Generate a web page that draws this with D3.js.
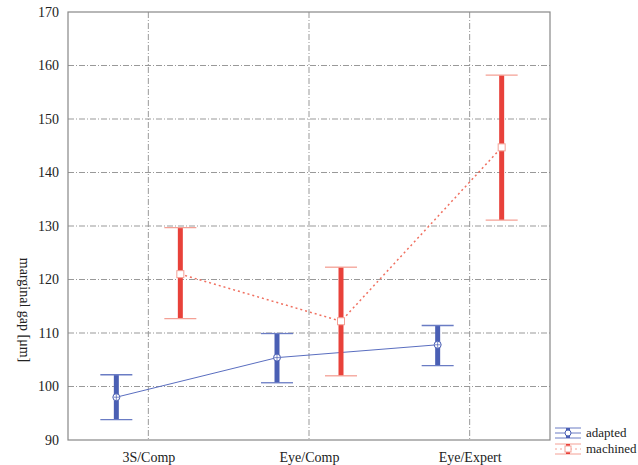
<!DOCTYPE html>
<html>
<head>
<meta charset="utf-8">
<script src="https://cdn.jsdelivr.net/npm/d3@7"></script>
<style>
  body { margin: 0; background: #fff; }
  svg text { font-family: 'Liberation Serif', 'Times New Roman', Times, 'DejaVu Serif', serif !important; }
</style>
</head>
<body>
<div id="chart"></div>
<script>
const categories = ['3S/Comp', 'Eye/Comp', 'Eye/Expert'];
const seriesNames = ['adapted', 'machined'];
const adaptedMean = [98.0, 105.4, 107.8];
const adaptedLow = [93.8, 100.7, 103.9];
const adaptedHigh = [102.2, 109.9, 111.4];
const machinedMean = [121.0, 112.2, 144.7];
const machinedLow = [112.7, 102.0, 131.1];
const machinedHigh = [129.7, 122.3, 158.2];
const yTicks = [90, 100, 110, 120, 130, 140, 150, 160, 170];

const svgWidth = 638, svgHeight = 465;
const margin = { top: 12, right: 88, bottom: 25, left: 68 };
const width = svgWidth - margin.left - margin.right;
const height = svgHeight - margin.top - margin.bottom;

const svg = d3.select('#chart').append('svg')
    .attr('width', svgWidth)
    .attr('height', svgHeight);

const g = svg.append('g')
    .attr('transform', `translate(${margin.left},${margin.top})`);

const x = d3.scalePoint().domain(categories).range([0, width]).padding(0.5);
const y = d3.scaleLinear().domain([90, 170]).range([height, 0]);

// grid
g.selectAll('.hgrid').data(yTicks.slice(1, -1)).enter().append('line')
    .attr('x1', 0).attr('x2', width)
    .attr('y1', d => y(d)).attr('y2', d => y(d))
    .attr('stroke', '#999').attr('stroke-width', 1)
    .attr('stroke-dasharray', '6,2,1,2');
g.selectAll('.vgrid').data(categories).enter().append('line')
    .attr('x1', d => x(d)).attr('x2', d => x(d))
    .attr('y1', 0).attr('y2', height)
    .attr('stroke', '#999').attr('stroke-width', 1)
    .attr('stroke-dasharray', '6,2,1,2');

// frame
g.append('rect').attr('width', width).attr('height', height)
    .attr('fill', 'none').attr('stroke', '#888').attr('stroke-width', 1.2);

// axes
const yAxis = g.append('g').call(d3.axisLeft(y).tickValues(yTicks).tickSize(0).tickPadding(9));
yAxis.select('.domain').remove();
yAxis.attr('font-size', 14);
yAxis.selectAll('text').attr('fill', '#222');

const xAxis = g.append('g').attr('transform', `translate(0,${height})`)
    .call(d3.axisBottom(x).tickSize(0).tickPadding(12));
xAxis.select('.domain').remove();
xAxis.attr('font-size', 14);
xAxis.selectAll('text').attr('fill', '#222');

svg.append('text')
    .attr('transform', 'translate(20,310) rotate(90)')
    .attr('text-anchor', 'middle')
    .attr('font-size', 14)
    .attr('fill', '#222')
    .text('marginal gap [μm]');

const series = [
  { name: 'adapted', mean: adaptedMean, low: adaptedLow, high: adaptedHigh, dx: -32,
    color: '#4a5fb4', cap: '#6a7cc4', dash: null, marker: 'circle' },
  { name: 'machined', mean: machinedMean, low: machinedLow, high: machinedHigh, dx: 32,
    color: '#e8413a', cap: '#f4a095', dash: '2,3', marker: 'square' }
];

series.forEach(s => {
  const pts = categories.map((c, i) => ({ c, m: s.mean[i], lo: s.low[i], hi: s.high[i] }));
  const px = d => x(d.c) + s.dx;

  g.append('path').datum(pts)
      .attr('d', d3.line().x(px).y(d => y(d.m)))
      .attr('fill', 'none')
      .attr('stroke', s.name === 'adapted' ? '#5a6ec0' : '#f07060')
      .attr('stroke-width', s.name === 'adapted' ? 1 : 1.5)
      .attr('stroke-dasharray', s.dash);

  const eb = g.selectAll('.eb-' + s.name).data(pts).enter().append('g');
  eb.append('line')
      .attr('x1', px).attr('x2', px)
      .attr('y1', d => y(d.lo)).attr('y2', d => y(d.hi))
      .attr('stroke', s.color).attr('stroke-width', 5);
  ['lo', 'hi'].forEach(k => {
    eb.append('line')
        .attr('x1', d => px(d) - 16).attr('x2', d => px(d) + 16)
        .attr('y1', d => y(d[k])).attr('y2', d => y(d[k]))
        .attr('stroke', s.cap).attr('stroke-width', 1.3);
  });

  if (s.marker === 'circle') {
    eb.append('circle')
        .attr('cx', px).attr('cy', d => y(d.m)).attr('r', 3.5)
        .attr('fill', '#fff').attr('stroke', s.color).attr('stroke-width', 1);
    eb.append('path')
        .attr('d', d => `M${px(d) - 3},${y(d.m)}H${px(d) + 3}M${px(d)},${y(d.m) - 3}V${y(d.m) + 3}`)
        .attr('stroke', s.color).attr('stroke-width', 0.7);
  } else {
    eb.append('rect')
        .attr('x', d => px(d) - 3.5).attr('y', d => y(d.m) - 3.5)
        .attr('width', 7).attr('height', 7)
        .attr('fill', '#fff').attr('stroke', s.cap).attr('stroke-width', 1);
  }
});

// legend
const legend = svg.append('g').attr('transform', 'translate(555,433)');
series.forEach((s, i) => {
  const lg = legend.append('g').attr('transform', `translate(0,${i * 16})`);
  lg.append('line').attr('x1', 0).attr('x2', 26).attr('y1', -5).attr('y2', -5)
      .attr('stroke', s.cap).attr('stroke-width', 1);
  lg.append('line').attr('x1', 0).attr('x2', 26).attr('y1', 5).attr('y2', 5)
      .attr('stroke', s.cap).attr('stroke-width', 1);
  lg.append('line').attr('x1', 0).attr('x2', 26).attr('y1', 0).attr('y2', 0)
      .attr('stroke', s.cap).attr('stroke-width', 1).attr('stroke-dasharray', s.dash);
  lg.append('line').attr('x1', 13).attr('x2', 13).attr('y1', -5).attr('y2', 5)
      .attr('stroke', s.color).attr('stroke-width', 4);
  if (s.marker === 'circle') {
    lg.append('circle').attr('cx', 13).attr('cy', 0).attr('r', 3)
        .attr('fill', '#fff').attr('stroke', s.color);
  } else {
    lg.append('rect').attr('x', 10).attr('y', -3).attr('width', 6).attr('height', 6)
        .attr('fill', '#fff').attr('stroke', s.cap);
  }
  lg.append('text').attr('x', 31).attr('y', 4).attr('font-size', 13).attr('fill', '#222').text(s.name);
});
</script>
</body>
</html>
